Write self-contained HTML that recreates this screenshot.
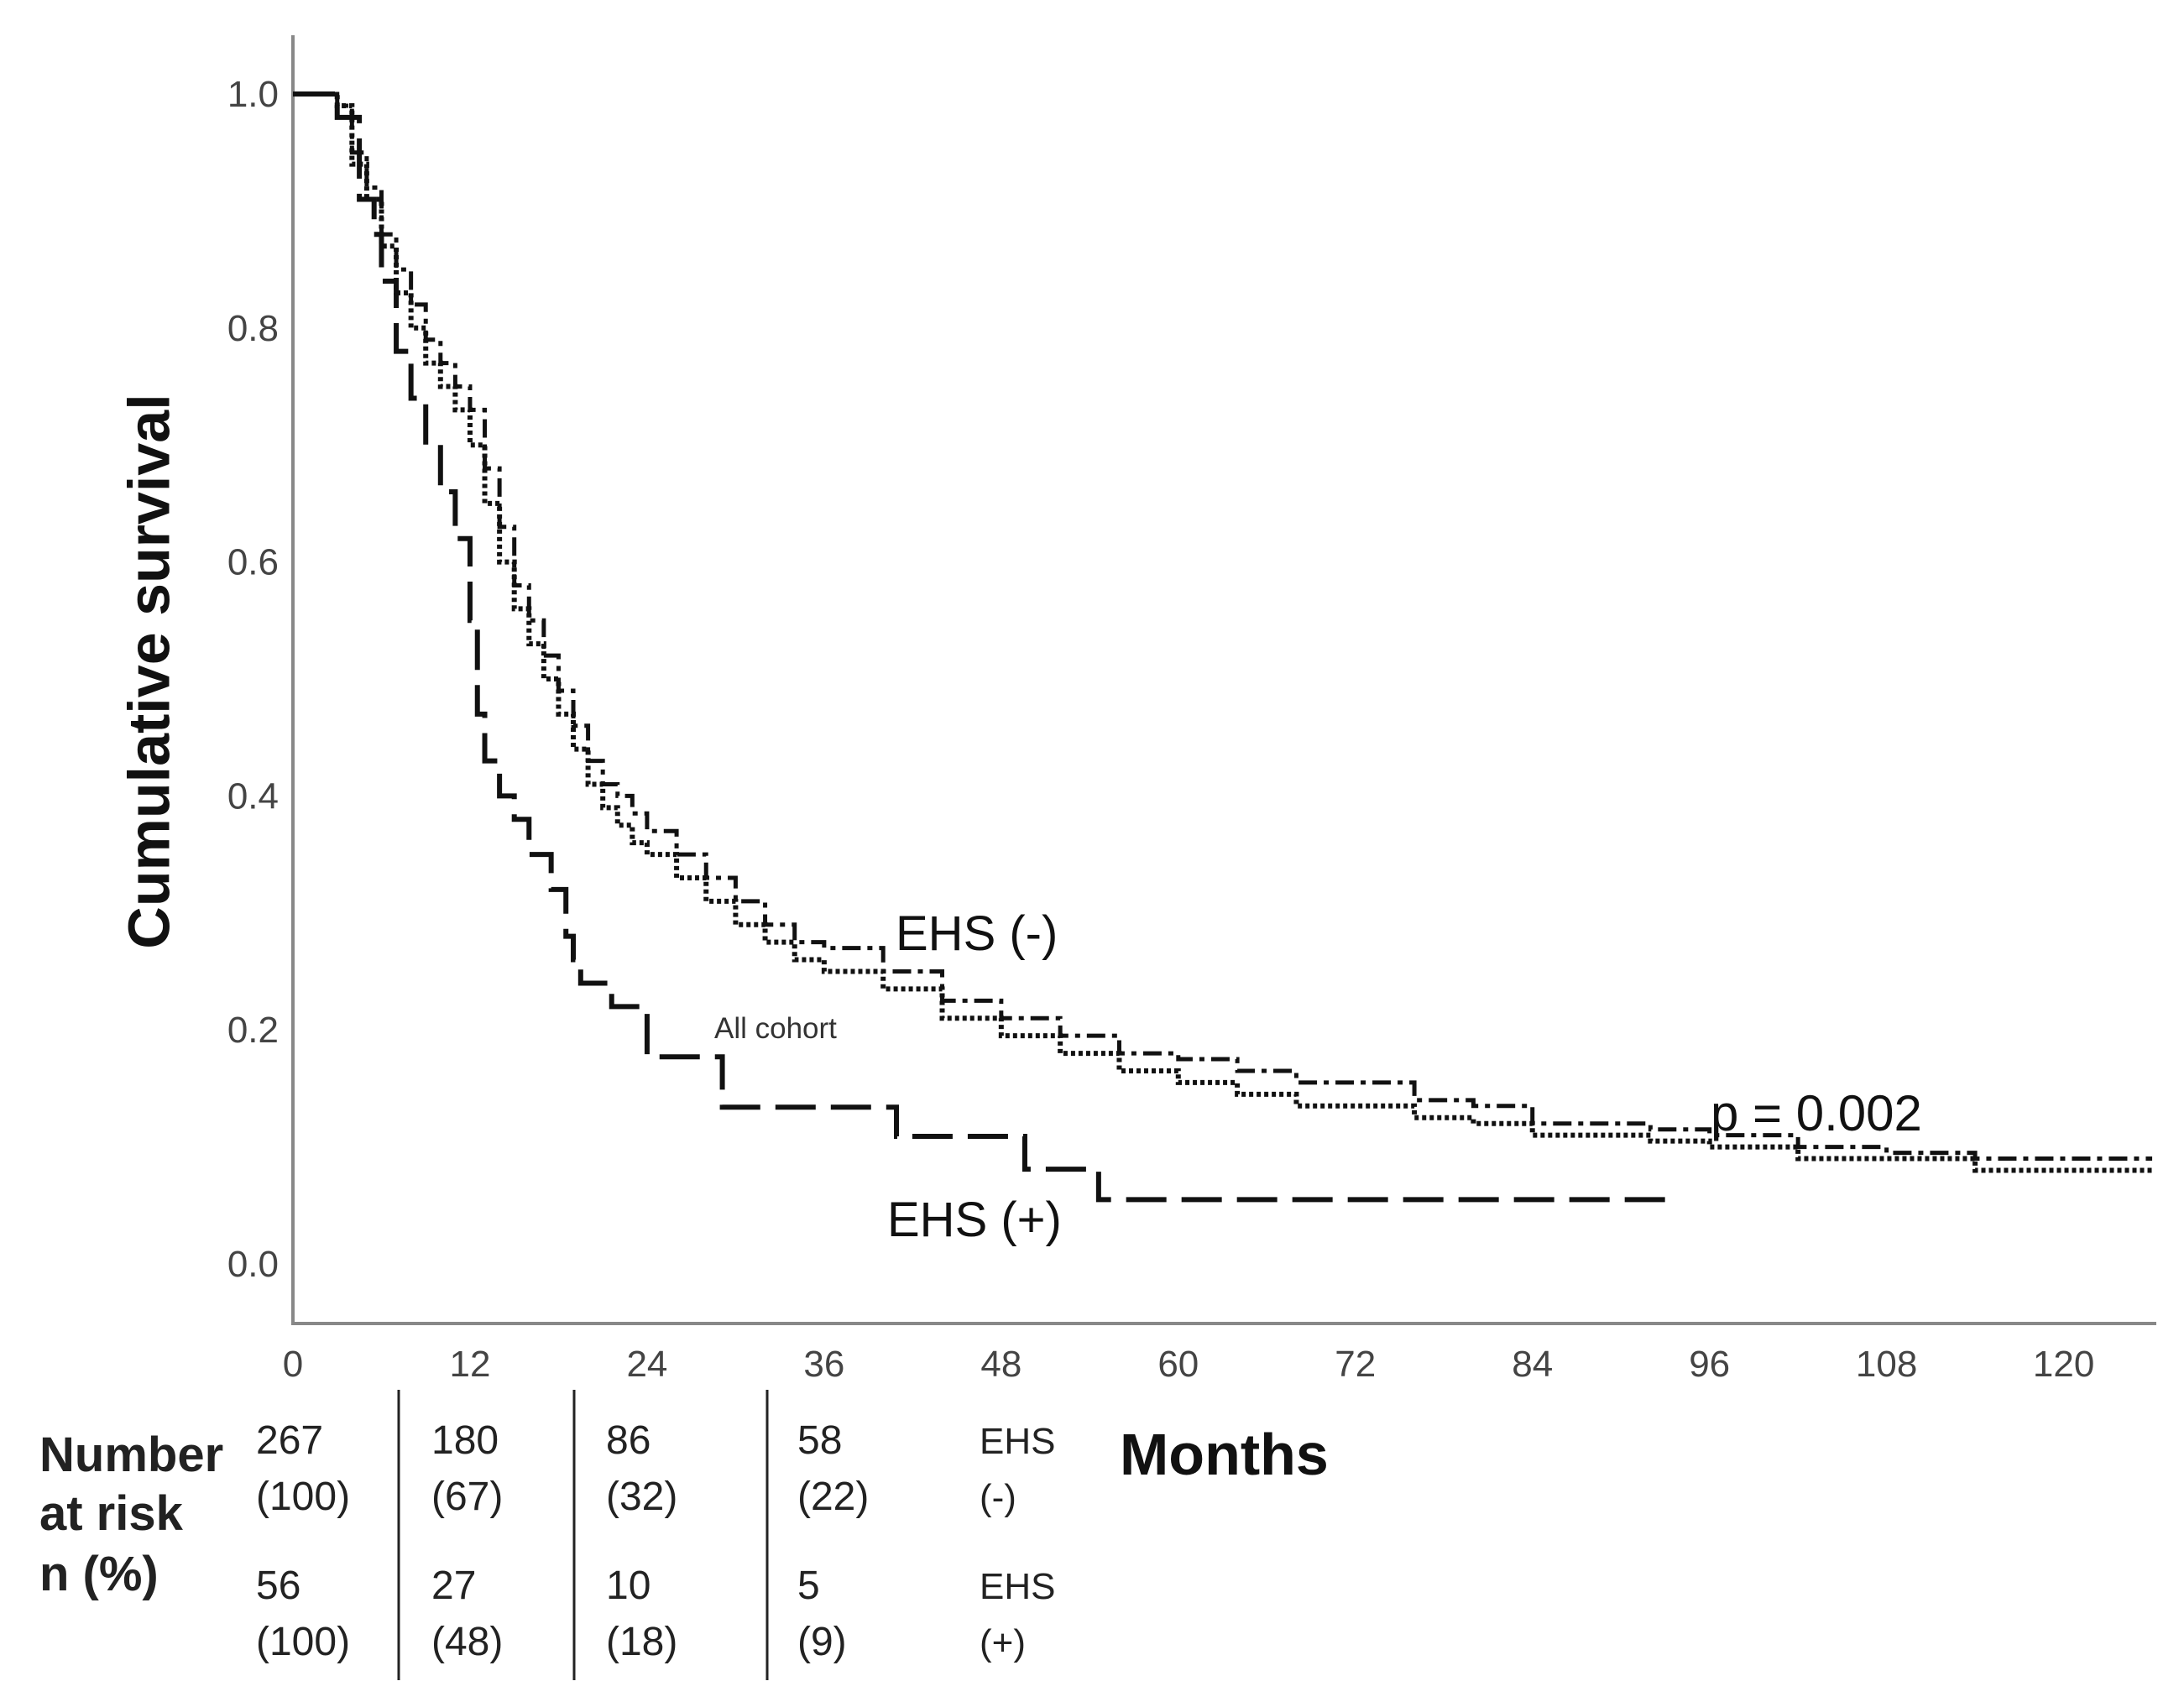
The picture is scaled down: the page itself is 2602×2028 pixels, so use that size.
<!DOCTYPE html>
<html><head><meta charset="utf-8"><style>
html,body{margin:0;padding:0;background:#fff}
svg{display:block}
text{font-family:"Liberation Sans",sans-serif}
</style></head><body>
<svg id="chart" width="2602" height="2028" viewBox="0 0 2602 2028">
<g id="axes"></g>
<g id="marks"></g>
<text x="183" y="800" transform="rotate(-90 183 800)" text-anchor="middle" dominant-baseline="middle" font-size="70" font-weight="bold" fill="#111">Cumulative survival</text>
<text x="1067" y="1132" font-size="58" fill="#111">EHS (-)</text>
<text x="851" y="1237" font-size="35" fill="#333">All cohort</text>
<text x="1057" y="1473" font-size="58" fill="#111">EHS (+)</text>
<text x="2038" y="1347" font-size="60" fill="#111">p = 0.002</text>
<text x="1334" y="1757" font-size="70" font-weight="bold" fill="#111">Months</text>
<g fill="#222">
<text x="47" y="1753" font-size="58" font-weight="bold">Number</text>
<text x="47" y="1823" font-size="58" font-weight="bold">at risk</text>
<text x="47" y="1895" font-size="58" font-weight="bold">n (%)</text>
</g>
<g id="risk"></g>
</svg>
<script>
const NS="http://www.w3.org/2000/svg";
const xTicks=[0,12,24,36,48,60,72,84,96,108,120];
const yTicks=[0.0,0.2,0.4,0.6,0.8,1.0];
const ehsNegT=[0,2,3,4,5,6,7,8,9,10,11,12,13,14,15,16,17,18,19,20,21,22,23,24,26,28,30,32,34,36,40,44,48,52,56,60,64,68,72,76,80,84,88,92,96,102,108,114,120,126];
const ehsNegS=[1,1,0.99,0.95,0.92,0.88,0.85,0.82,0.79,0.77,0.75,0.73,0.68,0.63,0.58,0.55,0.52,0.49,0.46,0.43,0.41,0.40,0.385,0.37,0.35,0.33,0.31,0.29,0.275,0.27,0.25,0.225,0.21,0.195,0.18,0.175,0.165,0.155,0.155,0.14,0.135,0.12,0.12,0.115,0.11,0.10,0.095,0.09,0.09,0.09];
const allT=[0,2,3,4,5,6,7,8,9,10,11,12,13,14,15,16,17,18,19,20,21,22,23,24,26,28,30,32,34,36,40,44,48,52,56,60,64,68,72,76,80,84,88,92,96,102,108,114,120,126];
const allS=[1,1,0.99,0.94,0.91,0.87,0.83,0.80,0.77,0.75,0.73,0.70,0.65,0.60,0.56,0.53,0.50,0.47,0.44,0.41,0.39,0.375,0.36,0.35,0.33,0.31,0.29,0.275,0.26,0.25,0.235,0.21,0.195,0.18,0.165,0.155,0.145,0.135,0.135,0.125,0.12,0.11,0.11,0.105,0.10,0.09,0.09,0.08,0.08,0.08];
const ehsPosT=[0,3,4.5,5.5,6,7,8,9,10,11,12,12.5,13,14,15,16,17.5,18.5,19,19.5,21.6,24,29.1,40.9,49.6,54.6,93.1];
const ehsPosS=[1,0.98,0.91,0.88,0.84,0.78,0.74,0.70,0.66,0.62,0.55,0.47,0.43,0.40,0.38,0.35,0.32,0.28,0.26,0.24,0.22,0.177,0.134,0.109,0.081,0.055,0.055];
const riskCols=[0,12,24,36];
const riskNeg=["267","180","86","58"];
const riskNegPct=["(100)","(67)","(32)","(22)"];
const riskPos=["56","27","10","5"];
const riskPosPct=["(100)","(48)","(18)","(9)"];

function X(m){return 349+m*17.58;}
function Y(s){return 1506-s*1394;}
function el(tag,attrs,parent){const e=document.createElementNS(NS,tag);for(const k in attrs)e.setAttribute(k,attrs[k]);parent.appendChild(e);return e;}

const axes=document.getElementById('axes');
let a=el('line',{x1:349,y1:42,x2:349,y2:1577,stroke:'#888','stroke-width':4},axes);


a=el('line',{x1:347,y1:1577,x2:2569,y2:1577,stroke:'#888','stroke-width':4},axes);


xTicks.forEach(v=>{const t=el('text',{x:X(v),y:1640,'text-anchor':'middle','font-size':44,fill:'#444'},axes);t.textContent=v;

});
yTicks.forEach(v=>{const t=el('text',{x:332,y:Y(v)+15,'text-anchor':'end','font-size':44,fill:'#444'},axes);t.textContent=v.toFixed(1);

});

function stepPath(T,S){let d='M'+X(T[0])+' '+Y(S[0]);for(let i=1;i<T.length;i++){d+=' H'+X(T[i])+' V'+Y(S[i]);}return d;}
const marks=document.getElementById('marks');
let p=el('path',{d:stepPath(ehsNegT,ehsNegS),fill:'none',stroke:'#111','stroke-width':5,'stroke-dasharray':'22 8 6 8'},marks);


p=el('path',{d:stepPath(allT,allS),fill:'none',stroke:'#111','stroke-width':6,'stroke-dasharray':'5 4'},marks);


p=el('path',{d:stepPath(ehsPosT,ehsPosS),fill:'none',stroke:'#111','stroke-width':6,'stroke-dasharray':'48 18'},marks);



const risk=document.getElementById('risk');
const colX=[305,514,722,950];
riskCols.forEach((c,i)=>{
 [[riskNeg,1732],[riskNegPct,1799],[riskPos,1905],[riskPosPct,1972]].forEach(([arr,y])=>{
  const t=el('text',{x:colX[i],y:y,'font-size':48,fill:'#222'},risk);t.textContent=arr[i];
  
  
 });
});
[[ 'EHS',1732],['(-)',1799],['EHS',1905],['(+)',1972]].forEach(([s,y])=>{
 const t=el('text',{x:1167,y:y,'font-size':44,fill:'#222'},risk);t.textContent=s;
 
 
});
[475,684,914].forEach(x=>{const l=el('line',{x1:x,y1:1656,x2:x,y2:2002,stroke:'#222','stroke-width':3},risk);

});
</script>
</body></html>
